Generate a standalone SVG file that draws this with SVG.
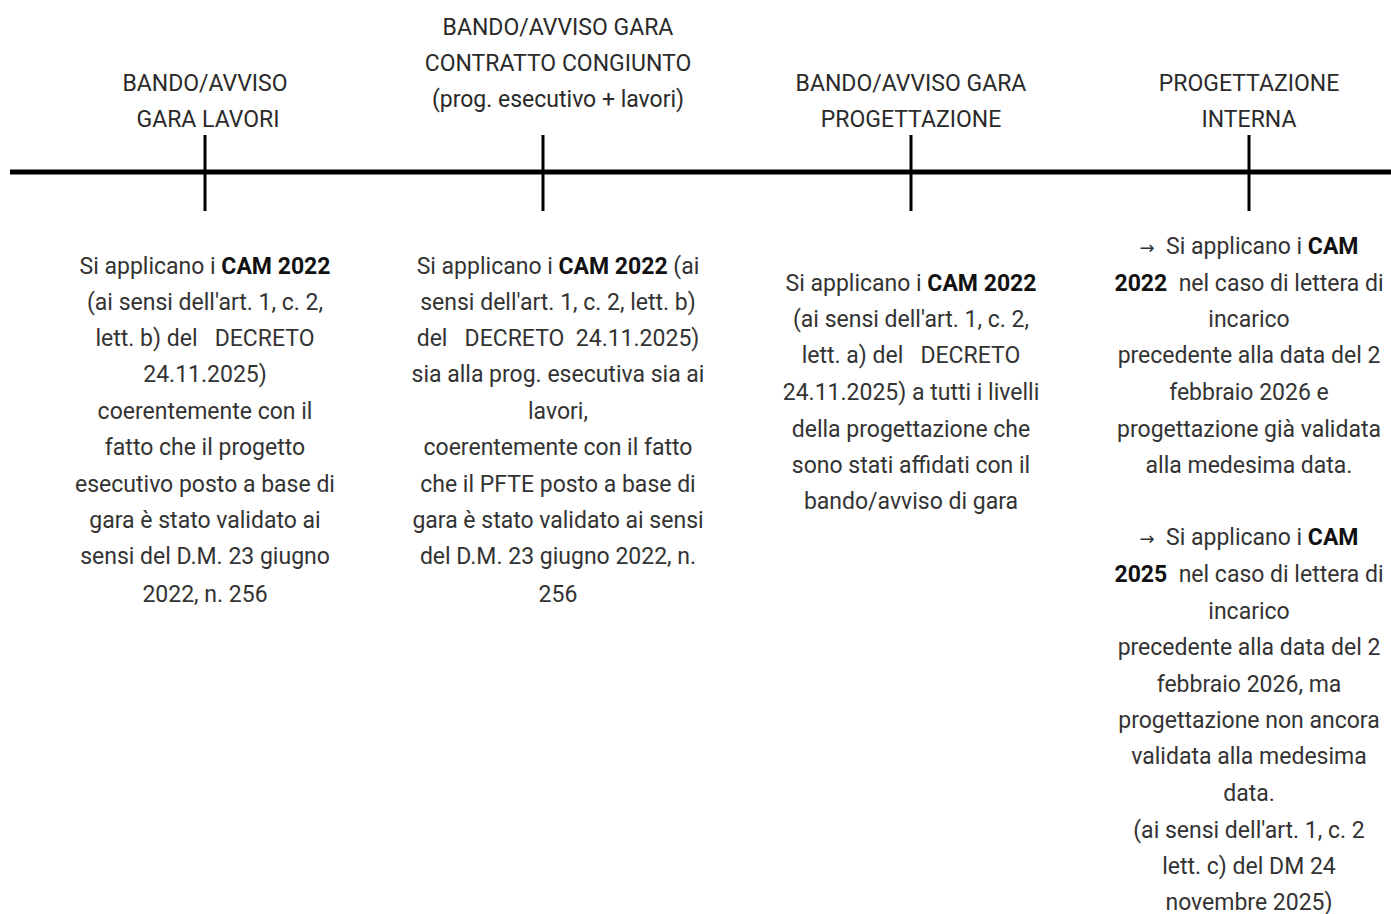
<svg xmlns="http://www.w3.org/2000/svg" width="1391" height="914" viewBox="0 0 1391 914">
<style>
text{font-family:Roboto,"Liberation Sans",sans-serif;font-size:23px;fill:#333;text-anchor:middle;white-space:pre}
.b{font-weight:bold;fill:#111}
.h{fill:#2a2a2a}
.a{font-family:"DejaVu Sans",sans-serif;font-size:18px}
</style>
<rect width="1391" height="914" fill="#fff"/>
<g id="connectors" stroke="#000">
<line x1="10" y1="172" x2="1391" y2="172" stroke-width="5"/>
<line x1="205" y1="135" x2="205" y2="211" stroke-width="3"/>
<line x1="543" y1="135" x2="543" y2="211" stroke-width="3"/>
<line x1="911" y1="135" x2="911" y2="211" stroke-width="3"/>
<line x1="1249" y1="135" x2="1249" y2="211" stroke-width="3"/>
</g>
<g id="node1">
<text class="h" x="205" y="91">BANDO/AVVISO</text>
<text class="h" x="208" y="127">GARA LAVORI</text>
<text x="205" y="274">Si applicano i <tspan class="b">CAM 2022</tspan></text>
<text x="205" y="310">(ai sensi dell'art. 1, c. 2,</text>
<text x="205" y="346">lett. b) del   DECRETO</text>
<text x="205" y="382">24.11.2025)</text>
<text x="205" y="419">coerentemente con il</text>
<text x="205" y="455">fatto che il progetto</text>
<text x="205" y="492">esecutivo posto a base di</text>
<text x="205" y="528">gara è stato validato ai</text>
<text x="205" y="564">sensi del D.M. 23 giugno</text>
<text x="205" y="602">2022, n. 256</text>
</g>
<g id="node2">
<text class="h" x="558" y="35">BANDO/AVVISO GARA</text>
<text class="h" x="558" y="71">CONTRATTO CONGIUNTO</text>
<text class="h" x="558" y="107">(prog. esecutivo + lavori)</text>
<text x="558" y="274">Si applicano i <tspan class="b">CAM 2022</tspan> (ai</text>
<text x="558" y="310">sensi dell'art. 1, c. 2, lett. b)</text>
<text x="558" y="346">del   DECRETO  24.11.2025)</text>
<text x="558" y="382">sia alla prog. esecutiva sia ai</text>
<text x="558" y="419">lavori,</text>
<text x="558" y="455">coerentemente con il fatto</text>
<text x="558" y="492">che il PFTE posto a base di</text>
<text x="558" y="528">gara è stato validato ai sensi</text>
<text x="558" y="564">del D.M. 23 giugno 2022, n.</text>
<text x="558" y="602">256</text>
</g>
<g id="node3">
<text class="h" x="911" y="91">BANDO/AVVISO GARA</text>
<text class="h" x="911" y="127">PROGETTAZIONE</text>
<text x="911" y="291">Si applicano i <tspan class="b">CAM 2022</tspan></text>
<text x="911" y="327">(ai sensi dell'art. 1, c. 2,</text>
<text x="911" y="363">lett. a) del   DECRETO</text>
<text x="911" y="400">24.11.2025) a tutti i livelli</text>
<text x="911" y="437">della progettazione che</text>
<text x="911" y="473">sono stati affidati con il</text>
<text x="911" y="509">bando/avviso di gara</text>
</g>
<g id="node4">
<text class="h" x="1249" y="91">PROGETTAZIONE</text>
<text class="h" x="1249" y="127">INTERNA</text>
<text x="1249" y="254"><tspan class="a">→</tspan>  Si applicano i <tspan class="b">CAM</tspan></text>
<text x="1249" y="291"><tspan class="b">2022</tspan>  nel caso di lettera di</text>
<text x="1249" y="327">incarico</text>
<text x="1249" y="363">precedente alla data del 2</text>
<text x="1249" y="400">febbraio 2026 e</text>
<text x="1249" y="437">progettazione già validata</text>
<text x="1249" y="473">alla medesima data.</text>
<text x="1249" y="545"><tspan class="a">→</tspan>  Si applicano i <tspan class="b">CAM</tspan></text>
<text x="1249" y="582"><tspan class="b">2025</tspan>  nel caso di lettera di</text>
<text x="1249" y="619">incarico</text>
<text x="1249" y="655">precedente alla data del 2</text>
<text x="1249" y="692">febbraio 2026, ma</text>
<text x="1249" y="728">progettazione non ancora</text>
<text x="1249" y="764">validata alla medesima</text>
<text x="1249" y="801">data.</text>
<text x="1249" y="838">(ai sensi dell'art. 1, c. 2</text>
<text x="1249" y="874">lett. c) del DM 24</text>
<text x="1249" y="910">novembre 2025)</text>
</g>
</svg>
